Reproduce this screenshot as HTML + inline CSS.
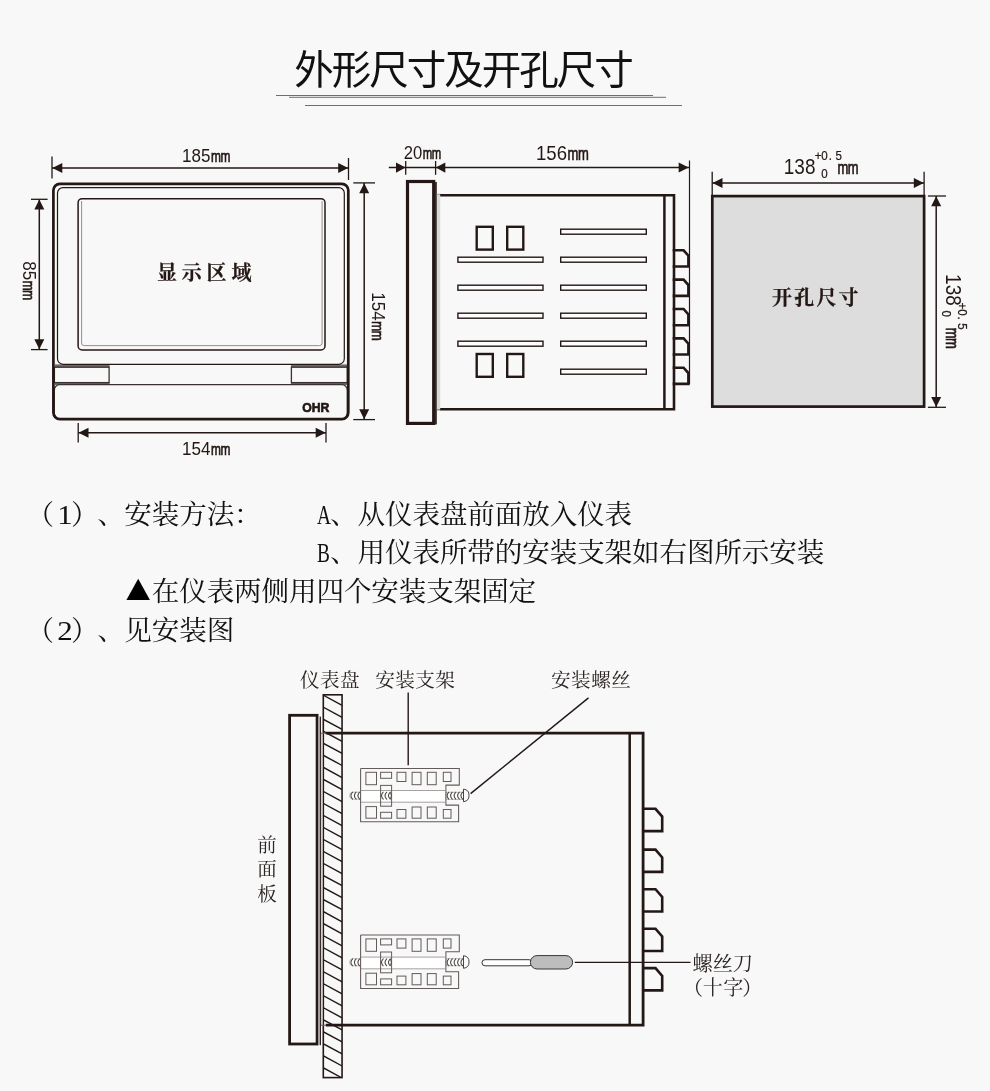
<!DOCTYPE html>
<html lang="zh-CN">
<head>
<meta charset="utf-8">
<title>外形尺寸及开孔尺寸</title>
<style>
html,body{margin:0;padding:0;background:#f8f8f8;}
body{width:990px;height:1091px;overflow:hidden;font-family:"Liberation Sans","Noto Sans CJK SC",sans-serif;}
svg{display:block;will-change:transform;}
text{white-space:pre;}
</style>
</head>
<body>
<svg width="990" height="1091" viewBox="0 0 990 1091">
<rect x="0" y="0" width="990" height="1091" fill="#f8f8f8"/>
<text x="294.2 331.7 369.2 406.7 444.2 481.7 519.2 556.7 594.2" y="84" font-family="'Liberation Sans', 'Noto Sans CJK SC', sans-serif" font-weight="400" font-size="39.5" fill="#111">外形尺寸及开孔尺寸</text>
<line x1="276" y1="95.5" x2="653" y2="95.5" stroke="#6e6e6e" stroke-width="1" />
<line x1="289" y1="97.3" x2="666" y2="97.3" stroke="#6e6e6e" stroke-width="1" />
<line x1="305" y1="105.5" x2="682" y2="105.5" stroke="#6e6e6e" stroke-width="1" />
<rect x="55" y="364.4" width="54.6" height="3" fill="#6f6967"/>
<rect x="291" y="364.4" width="56" height="3" fill="#6f6967"/>
<rect x="55" y="382.4" width="54.6" height="2.6" fill="#6f6967"/>
<rect x="291" y="382.4" width="56" height="2.6" fill="#6f6967"/>
<rect x="57.5" y="187.6" width="286.8" height="176.7" rx="5.5" fill="none" stroke="#231815" stroke-width="1.2"/>
<rect x="78.1" y="198.7" width="246.9" height="151.3" rx="4" fill="none" stroke="#231815" stroke-width="1.5"/>
<path d="M81.6,201 V343 Q81.6,345.6 84.2,345.6 H319.5 Q322.1,345.6 322.1,343 V201" fill="none" stroke="#7a7472" stroke-width="0.8"/>
<rect x="54.4" y="367.2" width="54.7" height="15.4" fill="none" stroke="#3a3331" stroke-width="1.3"/>
<rect x="291.4" y="367.2" width="55.8" height="15.4" fill="none" stroke="#3a3331" stroke-width="1.3"/>
<rect x="54.3" y="384.7" width="293.0" height="34.1" rx="5.5" fill="none" stroke="#3a3331" stroke-width="1.3"/>
<rect x="53.4" y="183.8" width="294.9" height="235.3" rx="6.5" fill="none" stroke="#231815" stroke-width="2.7"/>
<text transform="translate(302.2,412.3) scale(0.9,1)" font-family="'Liberation Sans', sans-serif" font-weight="bold" font-size="13.6" fill="#231815" stroke="#231815" stroke-width="0.7">OHR</text>
<text x="157" y="280.2" font-family="'Liberation Serif', 'Noto Serif CJK SC', serif" font-weight="700" font-size="20" letter-spacing="4.8" fill="#231815" stroke="#231815" stroke-width="0.25">显示区域</text>
<line x1="52" y1="168.1" x2="348.5" y2="168.1" stroke="#231815" stroke-width="1.5" />
<line x1="52" y1="156.5" x2="52" y2="178.5" stroke="#231815" stroke-width="1.3" />
<line x1="348.5" y1="158" x2="348.5" y2="180" stroke="#231815" stroke-width="1.3" />
<polygon points="52.3,168.1 62.3,163.1 62.3,173.1" fill="#231815" stroke="none" stroke-width="0"/>
<polygon points="348.2,168.1 338.2,163.1 338.2,173.1" fill="#231815" stroke="none" stroke-width="0"/>
<g transform="translate(182,161.8)" font-family="'Liberation Sans', sans-serif" fill="#231815">
<text transform="scale(0.93,1)" x="0" y="0" font-size="18.3">185</text>
<text transform="translate(28.9,0) scale(0.7,1)" x="0" y="0" font-size="17.02" stroke="#231815" stroke-width="0.7" letter-spacing="-0.6">mm</text>
</g>
<line x1="39.3" y1="199.3" x2="39.3" y2="349.6" stroke="#231815" stroke-width="1.5" />
<line x1="31" y1="199.3" x2="47.6" y2="199.3" stroke="#231815" stroke-width="1.3" />
<line x1="31" y1="349.6" x2="47.6" y2="349.6" stroke="#231815" stroke-width="1.3" />
<polygon points="39.3,199.6 34.3,209.6 44.3,209.6" fill="#231815" stroke="none" stroke-width="0"/>
<polygon points="39.3,349.3 34.3,339.3 44.3,339.3" fill="#231815" stroke="none" stroke-width="0"/>
<g transform="translate(22.7,261.2) rotate(90)" font-family="'Liberation Sans', sans-serif" fill="#231815">
<text transform="scale(0.93,1)" x="0" y="0" font-size="18.3">85</text>
<text transform="translate(19.43,0) scale(0.7,1)" x="0" y="0" font-size="17.02" stroke="#231815" stroke-width="0.7" letter-spacing="-0.6">mm</text>
</g>
<line x1="364.2" y1="182.9" x2="364.2" y2="419.6" stroke="#231815" stroke-width="1.5" />
<line x1="353.3" y1="182.9" x2="375" y2="182.9" stroke="#231815" stroke-width="1.3" />
<line x1="353.3" y1="419.6" x2="375" y2="419.6" stroke="#231815" stroke-width="1.3" />
<polygon points="364.2,183.2 359.2,193.2 369.2,193.2" fill="#231815" stroke="none" stroke-width="0"/>
<polygon points="364.2,419.3 359.2,409.3 369.2,409.3" fill="#231815" stroke="none" stroke-width="0"/>
<g transform="translate(371.6,292.3) rotate(90)" font-family="'Liberation Sans', sans-serif" fill="#231815">
<text transform="scale(0.93,1)" x="0" y="0" font-size="18.3">154</text>
<text transform="translate(28.9,0) scale(0.7,1)" x="0" y="0" font-size="17.02" stroke="#231815" stroke-width="0.7" letter-spacing="-0.6">mm</text>
</g>
<line x1="78.2" y1="432.8" x2="326" y2="432.8" stroke="#231815" stroke-width="1.5" />
<line x1="78.2" y1="423" x2="78.2" y2="442.4" stroke="#231815" stroke-width="1.3" />
<line x1="326" y1="423" x2="326" y2="442.4" stroke="#231815" stroke-width="1.3" />
<polygon points="78.5,432.8 88.5,427.8 88.5,437.8" fill="#231815" stroke="none" stroke-width="0"/>
<polygon points="325.7,432.8 315.7,427.8 315.7,437.8" fill="#231815" stroke="none" stroke-width="0"/>
<g transform="translate(182,455.3)" font-family="'Liberation Sans', sans-serif" fill="#231815">
<text transform="scale(0.93,1)" x="0" y="0" font-size="18.3">154</text>
<text transform="translate(28.9,0) scale(0.7,1)" x="0" y="0" font-size="17.02" stroke="#231815" stroke-width="0.7" letter-spacing="-0.6">mm</text>
</g>
<rect x="435" y="182" width="1.9" height="242.4" fill="#3e3634"/>
<rect x="407.5" y="181.5" width="26.2" height="241.9" fill="none" stroke="#231815" stroke-width="3.2"/>
<rect x="436.9" y="194" width="3.3" height="215.4" fill="#d9d9d9"/>
<line x1="436.5" y1="194.3" x2="441" y2="194.3" stroke="#8a8a8a" stroke-width="0.8" />
<line x1="436.5" y1="409.8" x2="441" y2="409.8" stroke="#5a5250" stroke-width="0.9" />
<polyline points="440.2,195.2 674,195.2 674,409.3 440.2,409.3" fill="none" stroke="#231815" stroke-width="2.6" stroke-linejoin="miter"/>
<line x1="664.4" y1="195.2" x2="664.4" y2="409.3" stroke="#231815" stroke-width="2.5" />
<rect x="476.7" y="226.8" width="16.1" height="22.8" fill="none" stroke="#231815" stroke-width="2.4"/>
<rect x="507.2" y="226.8" width="16.1" height="22.8" fill="none" stroke="#231815" stroke-width="2.4"/>
<rect x="476.7" y="354.0" width="16.1" height="22.8" fill="none" stroke="#231815" stroke-width="2.4"/>
<rect x="507.2" y="354.0" width="16.1" height="22.8" fill="none" stroke="#231815" stroke-width="2.4"/>
<rect x="457.9" y="257.2" width="85.1" height="5.0" fill="#fdfdfd" stroke="#231815" stroke-width="1.4"/>
<rect x="457.9" y="285.2" width="85.1" height="5.0" fill="#fdfdfd" stroke="#231815" stroke-width="1.4"/>
<rect x="457.9" y="313.2" width="85.1" height="5.0" fill="#fdfdfd" stroke="#231815" stroke-width="1.4"/>
<rect x="457.9" y="341.2" width="85.1" height="5.0" fill="#fdfdfd" stroke="#231815" stroke-width="1.4"/>
<rect x="560.7" y="229.2" width="85.6" height="5.0" fill="#fdfdfd" stroke="#231815" stroke-width="1.4"/>
<rect x="560.7" y="257.2" width="85.6" height="5.0" fill="#fdfdfd" stroke="#231815" stroke-width="1.4"/>
<rect x="560.7" y="285.2" width="85.6" height="5.0" fill="#fdfdfd" stroke="#231815" stroke-width="1.4"/>
<rect x="560.7" y="313.2" width="85.6" height="5.0" fill="#fdfdfd" stroke="#231815" stroke-width="1.4"/>
<rect x="560.7" y="341.2" width="85.6" height="5.0" fill="#fdfdfd" stroke="#231815" stroke-width="1.4"/>
<rect x="560.7" y="369.2" width="85.6" height="5.0" fill="#fdfdfd" stroke="#231815" stroke-width="1.4"/>
<line x1="689.5" y1="160.5" x2="689.5" y2="384" stroke="#231815" stroke-width="1.2" />
<polyline points="672.7,250.3 683.6,250.3 688.4,255.7 688.4,266.5 672.7,266.5" fill="none" stroke="#231815" stroke-width="2.6" stroke-linejoin="miter"/>
<polyline points="672.7,279.65 683.6,279.65 688.4,285.05 688.4,295.85 672.7,295.85" fill="none" stroke="#231815" stroke-width="2.6" stroke-linejoin="miter"/>
<polyline points="672.7,309.0 683.6,309.0 688.4,314.4 688.4,325.2 672.7,325.2" fill="none" stroke="#231815" stroke-width="2.6" stroke-linejoin="miter"/>
<polyline points="672.7,338.35 683.6,338.35 688.4,343.75 688.4,354.55 672.7,354.55" fill="none" stroke="#231815" stroke-width="2.6" stroke-linejoin="miter"/>
<polyline points="672.7,367.7 683.6,367.7 688.4,373.1 688.4,383.9 672.7,383.9" fill="none" stroke="#231815" stroke-width="2.6" stroke-linejoin="miter"/>
<line x1="388.8" y1="167.6" x2="689" y2="167.6" stroke="#231815" stroke-width="1.5" />
<line x1="405.7" y1="161" x2="405.7" y2="174.8" stroke="#231815" stroke-width="1.3" />
<line x1="435.6" y1="161" x2="435.6" y2="174.8" stroke="#231815" stroke-width="1.3" />
<polygon points="405.5,167.6 396.0,162.4 396.0,172.79999999999998" fill="#231815" stroke="none" stroke-width="0"/>
<polygon points="435.8,167.6 445.3,162.4 445.3,172.79999999999998" fill="#231815" stroke="none" stroke-width="0"/>
<polygon points="688.7,167.6 678.7,162.6 678.7,172.6" fill="#231815" stroke="none" stroke-width="0"/>
<g transform="translate(403.8,158.7)" font-family="'Liberation Sans', sans-serif" fill="#231815">
<text transform="scale(0.93,1)" x="0" y="0" font-size="17.9">20</text>
<text transform="translate(19.02,0) scale(0.68,1)" x="0" y="0" font-size="16.65" stroke="#231815" stroke-width="0.7" letter-spacing="-0.6">mm</text>
</g>
<g transform="translate(536,159.5)" font-family="'Liberation Sans', sans-serif" fill="#231815">
<text transform="scale(0.93,1)" x="0" y="0" font-size="20">156</text>
<text transform="translate(31.54,0) scale(0.7,1)" x="0" y="0" font-size="18.6" stroke="#231815" stroke-width="0.7" letter-spacing="-0.6">mm</text>
</g>
<rect x="712.3" y="196.1" width="211.8" height="210.5" fill="#dddddd" stroke="#231815" stroke-width="2.7"/>
<line x1="712.2" y1="183" x2="924.1" y2="183" stroke="#231815" stroke-width="1.5" />
<line x1="712.2" y1="171.8" x2="712.2" y2="195" stroke="#231815" stroke-width="1.3" />
<line x1="924.1" y1="171.8" x2="924.1" y2="195" stroke="#231815" stroke-width="1.3" />
<polygon points="712.5,183 722.5,178 722.5,188" fill="#231815" stroke="none" stroke-width="0"/>
<polygon points="923.8,183 913.8,178 913.8,188" fill="#231815" stroke="none" stroke-width="0"/>
<line x1="936.2" y1="196" x2="936.2" y2="407.3" stroke="#231815" stroke-width="1.5" />
<line x1="927.9" y1="196" x2="946" y2="196" stroke="#231815" stroke-width="1.3" />
<line x1="927.9" y1="407.3" x2="946" y2="407.3" stroke="#231815" stroke-width="1.3" />
<polygon points="936.2,196.3 931.2,206.3 941.2,206.3" fill="#231815" stroke="none" stroke-width="0"/>
<polygon points="936.2,407 931.2,397 941.2,397" fill="#231815" stroke="none" stroke-width="0"/>
<text x="772" y="304.5" font-family="'Liberation Serif', 'Noto Serif CJK SC', serif" font-weight="700" font-size="20" letter-spacing="2.2" fill="#231815" stroke="#231815" stroke-width="0.25">开孔尺寸</text>
<g transform="translate(785.6,173.6)" font-family="'Liberation Sans', sans-serif" fill="#231815">
<text transform="translate(-1.8,0) scale(0.87,1)" x="0" y="0" font-size="21.8">138</text>
<text transform="translate(29.1,-13.3) scale(0.85,1)" x="0 7.76 16.47 24.35" y="0" font-size="13.6" stroke="#231815" stroke-width="0.25">+0.5</text>
<text transform="translate(35.7,3.9) scale(0.85,1)" x="0" y="0" font-size="13.6" stroke="#231815" stroke-width="0.25">0</text>
<text transform="translate(51.8,0) scale(0.72,1)" x="0" y="0" font-size="18" stroke="#231815" stroke-width="0.7" letter-spacing="-0.6">mm</text>
</g>
<g transform="translate(946.2,275.9) rotate(90)" font-family="'Liberation Sans', sans-serif" fill="#231815">
<text transform="translate(-1.8,0) scale(0.87,1)" x="0" y="0" font-size="21.8">138</text>
<text transform="translate(26.700000000000003,-11.9) scale(0.85,1)" x="0 7.76 16.47 24.35" y="0" font-size="13.6" stroke="#231815" stroke-width="0.25">+0.5</text>
<text transform="translate(34.7,3.9) scale(0.85,1)" x="0" y="0" font-size="13.6" stroke="#231815" stroke-width="0.25">0</text>
<text transform="translate(51.8,0) scale(0.72,1)" x="0" y="0" font-size="18" stroke="#231815" stroke-width="0.7" letter-spacing="-0.6">mm</text>
</g>
<text x="26.5" y="523.5" font-family="'Liberation Serif', 'Noto Serif CJK SC', serif" font-size="27.6" font-weight="400" fill="#111111">（</text>
<text transform="translate(57.2,523.5) scale(1.12,1)" font-family="'Liberation Serif', 'Noto Serif CJK SC', serif" font-size="27.6" fill="#111111">1</text>
<text x="71 97.3" y="523.5" font-family="'Liberation Serif', 'Noto Serif CJK SC', serif" font-size="27.6" font-weight="400" fill="#111111">）、</text>
<text x="124.3 151.75 179.2 206.65 234.1" y="523.5" font-family="'Liberation Serif', 'Noto Serif CJK SC', serif" font-size="27.6" font-weight="400" fill="#111111">安装方法：</text>
<text transform="translate(317,523.5) scale(0.7,1)" font-family="'Liberation Serif', 'Noto Serif CJK SC', serif" font-size="27.6" fill="#111111">A</text>
<text x="330.1 357.55 385.0 412.45 439.9 467.35 494.8 522.25 549.7 577.15 604.6" y="523.5" font-family="'Liberation Serif', 'Noto Serif CJK SC', serif" font-size="27.6" font-weight="400" fill="#111111">、从仪表盘前面放入仪表</text>
<text transform="translate(317,561.9) scale(0.7,1)" font-family="'Liberation Serif', 'Noto Serif CJK SC', serif" font-size="27.6" fill="#111111">B</text>
<text x="330.1 357.55 385.0 412.45 439.9 467.35 494.8 522.25 549.7 577.15 604.6 632.05 659.5 686.95 714.4 741.85 769.3 796.75" y="561.9" font-family="'Liberation Serif', 'Noto Serif CJK SC', serif" font-size="27.6" font-weight="400" fill="#111111">、用仪表所带的安装支架如右图所示安装</text>
<text transform="translate(118.2,600.3) scale(1.48,1.34)" font-family="'Liberation Serif', 'Noto Serif CJK SC', serif" font-size="27.2" fill="#000">▲</text>
<text x="151.75 179.2 206.65 234.1 261.55 289.0 316.45 343.9 371.35 398.8 426.25 453.7 481.15 508.6" y="600.5" font-family="'Liberation Serif', 'Noto Serif CJK SC', serif" font-size="27.6" font-weight="400" fill="#111111">在仪表两侧用四个安装支架固定</text>
<text x="26.5" y="639.6" font-family="'Liberation Serif', 'Noto Serif CJK SC', serif" font-size="27.6" font-weight="400" fill="#111111">（</text>
<text transform="translate(57.2,639.6) scale(1.12,1)" font-family="'Liberation Serif', 'Noto Serif CJK SC', serif" font-size="27.6" fill="#111111">2</text>
<text x="71 97.3" y="639.6" font-family="'Liberation Serif', 'Noto Serif CJK SC', serif" font-size="27.6" font-weight="400" fill="#111111">）、</text>
<text x="124.3 151.75 179.2 206.65" y="639.6" font-family="'Liberation Serif', 'Noto Serif CJK SC', serif" font-size="27.6" font-weight="400" fill="#111111">见安装图</text>
<text x="300.0 320.0 340.0" y="687.2" font-family="'Liberation Serif', 'Noto Serif CJK SC', serif" font-size="19.6" font-weight="400" fill="#2b2422">仪表盘</text>
<text x="375.3 395.3 415.3 435.3" y="687.2" font-family="'Liberation Serif', 'Noto Serif CJK SC', serif" font-size="19.6" font-weight="400" fill="#2b2422">安装支架</text>
<text x="551.0 571.1 591.2 611.3" y="687.2" font-family="'Liberation Serif', 'Noto Serif CJK SC', serif" font-size="19.6" font-weight="400" fill="#2b2422">安装螺丝</text>
<text x="257.3" y="851.8" font-family="'Liberation Serif', 'Noto Serif CJK SC', serif" font-size="19.5" font-weight="400" fill="#2b2422">前</text>
<text x="257.3" y="876.2" font-family="'Liberation Serif', 'Noto Serif CJK SC', serif" font-size="19.5" font-weight="400" fill="#2b2422">面</text>
<text x="257.3" y="900.6" font-family="'Liberation Serif', 'Noto Serif CJK SC', serif" font-size="19.5" font-weight="400" fill="#2b2422">板</text>
<text x="692.6 712.7 732.8" y="971" font-family="'Liberation Serif', 'Noto Serif CJK SC', serif" font-size="20.2" font-weight="400" fill="#2b2422">螺丝刀</text>
<text x="683 702.8 723.2 742.2" y="995" font-family="'Liberation Serif', 'Noto Serif CJK SC', serif" font-size="20" font-weight="400" fill="#2b2422">（十字）</text>
<clipPath id="hc"><rect x="323.1" y="694.8" width="19" height="382.8"/></clipPath>
<g clip-path="url(#hc)">
<line x1="323.1" y1="683.08" x2="342.1" y2="693.38" stroke="#231815" stroke-width="1.4" />
<line x1="323.1" y1="695.1" x2="342.1" y2="705.4" stroke="#231815" stroke-width="1.4" />
<line x1="323.1" y1="707.12" x2="342.1" y2="717.42" stroke="#231815" stroke-width="1.4" />
<line x1="323.1" y1="719.14" x2="342.1" y2="729.44" stroke="#231815" stroke-width="1.4" />
<line x1="323.1" y1="731.16" x2="342.1" y2="741.46" stroke="#231815" stroke-width="1.4" />
<line x1="323.1" y1="743.18" x2="342.1" y2="753.48" stroke="#231815" stroke-width="1.4" />
<line x1="323.1" y1="755.2" x2="342.1" y2="765.5" stroke="#231815" stroke-width="1.4" />
<line x1="323.1" y1="767.22" x2="342.1" y2="777.52" stroke="#231815" stroke-width="1.4" />
<line x1="323.1" y1="779.24" x2="342.1" y2="789.54" stroke="#231815" stroke-width="1.4" />
<line x1="323.1" y1="791.26" x2="342.1" y2="801.56" stroke="#231815" stroke-width="1.4" />
<line x1="323.1" y1="803.28" x2="342.1" y2="813.58" stroke="#231815" stroke-width="1.4" />
<line x1="323.1" y1="815.3" x2="342.1" y2="825.6" stroke="#231815" stroke-width="1.4" />
<line x1="323.1" y1="827.32" x2="342.1" y2="837.62" stroke="#231815" stroke-width="1.4" />
<line x1="323.1" y1="839.34" x2="342.1" y2="849.64" stroke="#231815" stroke-width="1.4" />
<line x1="323.1" y1="851.36" x2="342.1" y2="861.66" stroke="#231815" stroke-width="1.4" />
<line x1="323.1" y1="863.38" x2="342.1" y2="873.68" stroke="#231815" stroke-width="1.4" />
<line x1="323.1" y1="875.4" x2="342.1" y2="885.7" stroke="#231815" stroke-width="1.4" />
<line x1="323.1" y1="887.42" x2="342.1" y2="897.72" stroke="#231815" stroke-width="1.4" />
<line x1="323.1" y1="899.44" x2="342.1" y2="909.74" stroke="#231815" stroke-width="1.4" />
<line x1="323.1" y1="911.46" x2="342.1" y2="921.76" stroke="#231815" stroke-width="1.4" />
<line x1="323.1" y1="923.48" x2="342.1" y2="933.78" stroke="#231815" stroke-width="1.4" />
<line x1="323.1" y1="935.5" x2="342.1" y2="945.8" stroke="#231815" stroke-width="1.4" />
<line x1="323.1" y1="947.52" x2="342.1" y2="957.82" stroke="#231815" stroke-width="1.4" />
<line x1="323.1" y1="959.54" x2="342.1" y2="969.84" stroke="#231815" stroke-width="1.4" />
<line x1="323.1" y1="971.56" x2="342.1" y2="981.86" stroke="#231815" stroke-width="1.4" />
<line x1="323.1" y1="983.58" x2="342.1" y2="993.88" stroke="#231815" stroke-width="1.4" />
<line x1="323.1" y1="995.6" x2="342.1" y2="1005.9" stroke="#231815" stroke-width="1.4" />
<line x1="323.1" y1="1007.62" x2="342.1" y2="1017.92" stroke="#231815" stroke-width="1.4" />
<line x1="323.1" y1="1019.64" x2="342.1" y2="1029.94" stroke="#231815" stroke-width="1.4" />
<line x1="323.1" y1="1031.66" x2="342.1" y2="1041.96" stroke="#231815" stroke-width="1.4" />
<line x1="323.1" y1="1043.68" x2="342.1" y2="1053.98" stroke="#231815" stroke-width="1.4" />
<line x1="323.1" y1="1055.7" x2="342.1" y2="1066.0" stroke="#231815" stroke-width="1.4" />
<line x1="323.1" y1="1067.72" x2="342.1" y2="1078.02" stroke="#231815" stroke-width="1.4" />
<line x1="323.1" y1="1079.74" x2="342.1" y2="1090.04" stroke="#231815" stroke-width="1.4" />
</g>
<rect x="323.3" y="694.8" width="18.75" height="382.8" fill="none" stroke="#231815" stroke-width="1.6"/>
<rect x="289.6" y="715.3" width="27.5" height="328.7" fill="none" stroke="#231815" stroke-width="2.8"/>
<rect x="318.3" y="716.6" width="1.8" height="328.4" fill="#a5a2a1"/>
<rect x="320" y="716.6" width="0.95" height="328.6" fill="#231815"/>
<rect x="320.95" y="733" width="1.6" height="292.5" fill="#cfcfcf"/>
<line x1="321" y1="733.2" x2="327" y2="733.2" stroke="#6a6260" stroke-width="1.0" />
<line x1="321" y1="1025.2" x2="327" y2="1025.2" stroke="#6a6260" stroke-width="1.0" />
<polyline points="325.8,733.2 643.1,733.2 643.1,1025.2 325.8,1025.2" fill="none" stroke="#231815" stroke-width="2.8" stroke-linejoin="miter"/>
<line x1="629.7" y1="733.2" x2="629.7" y2="1025.2" stroke="#231815" stroke-width="2.5" />
<polyline points="642,808.8 655.5,808.8 662.2,816.6 662.2,831.1 642,831.1" fill="none" stroke="#231815" stroke-width="2.6" stroke-linejoin="miter"/>
<polyline points="642,849.6 655.5,849.6 662.2,857.4 662.2,871.9 642,871.9" fill="none" stroke="#231815" stroke-width="2.6" stroke-linejoin="miter"/>
<polyline points="642,889.2 655.5,889.2 662.2,897.0 662.2,911.5 642,911.5" fill="none" stroke="#231815" stroke-width="2.6" stroke-linejoin="miter"/>
<polyline points="642,928.7 655.5,928.7 662.2,936.5 662.2,951.0 642,951.0" fill="none" stroke="#231815" stroke-width="2.6" stroke-linejoin="miter"/>
<polyline points="642,968.1 655.5,968.1 662.2,975.9 662.2,990.4 642,990.4" fill="none" stroke="#231815" stroke-width="2.6" stroke-linejoin="miter"/>
<line x1="408.2" y1="692.4" x2="408.2" y2="765.2" stroke="#231815" stroke-width="1.4" />
<line x1="588.5" y1="697.9" x2="470.6" y2="793.6" stroke="#231815" stroke-width="1.4" />
<line x1="574.8" y1="962.4" x2="690.5" y2="962.4" stroke="#231815" stroke-width="1.3" />
<rect x="361" y="790.5" width="84.8" height="11.7" fill="#ffffff"/>
<path d="M360.5,792.2 H352.2 Q349.6,792.4 349.6,795.7 Q349.6,799 352.2,799.2 H360.5 Z" fill="#fff" stroke="#9a9593" stroke-width="0.6"/>
<path d="M352.6,792.2 Q349.2,795.7 352.6,799.2 M356.1,792.2 Q352.7,795.7 356.1,799.2 M359.6,792.2 Q356.2,795.7 359.6,799.2" fill="none" stroke="#4a4341" stroke-width="1.05" stroke-linecap="round"/>
<rect x="446" y="792.2" width="17.4" height="7" fill="#fff" stroke="#9a9593" stroke-width="0.6"/>
<path d="M448.8,792.2 Q445.4,795.7 448.8,799.2 M452.3,792.2 Q448.9,795.7 452.3,799.2 M455.8,792.2 Q452.4,795.7 455.8,799.2 M459.3,792.2 Q455.9,795.7 459.3,799.2 M462.6,792.2 Q459.2,795.7 462.6,799.2" fill="none" stroke="#4a4341" stroke-width="1.05" stroke-linecap="round"/>
<path d="M463.5,789.1 Q469.2,789.8 469,795.4 Q469.2,801 463.5,801.7 Z" fill="#fbfbfb" stroke="#4a4341" stroke-width="1.0"/>
<polyline points="360.6,768.4 459.3,768.4 459.3,785.1 445.9,785.1 445.9,805.1 458.6,805.1 458.6,821.8 360.6,821.8 360.6,768.4" fill="none" stroke="#625b59" stroke-width="1.05" stroke-linejoin="miter"/>
<line x1="361" y1="790.5" x2="445.8" y2="790.5" stroke="#8f8a88" stroke-width="0.8" />
<line x1="361" y1="802.2" x2="445.8" y2="802.2" stroke="#8f8a88" stroke-width="0.8" />
<rect x="365.9" y="772.3" width="10.6" height="12.4" fill="none" stroke="#625b59" stroke-width="1.0"/>
<rect x="380.6" y="772.3" width="11.0" height="6.0" fill="none" stroke="#625b59" stroke-width="1.0"/>
<rect x="397" y="772.3" width="8.9" height="9.2" fill="none" stroke="#625b59" stroke-width="1.0"/>
<rect x="412.1" y="772.3" width="8.9" height="12.4" fill="none" stroke="#625b59" stroke-width="1.0"/>
<rect x="427.3" y="772.3" width="8.9" height="12.4" fill="none" stroke="#625b59" stroke-width="1.0"/>
<rect x="443.3" y="772.3" width="7.7" height="9.2" fill="none" stroke="#625b59" stroke-width="1.0"/>
<rect x="365.9" y="806.6" width="10.6" height="11.6" fill="none" stroke="#625b59" stroke-width="1.0"/>
<rect x="380.6" y="812.3" width="11.0" height="5.9" fill="none" stroke="#625b59" stroke-width="1.0"/>
<rect x="397" y="809.5" width="8.9" height="8.7" fill="none" stroke="#625b59" stroke-width="1.0"/>
<rect x="412.1" y="807" width="8.9" height="11.2" fill="none" stroke="#625b59" stroke-width="1.0"/>
<rect x="427.3" y="807" width="8.9" height="11.2" fill="none" stroke="#625b59" stroke-width="1.0"/>
<rect x="443.3" y="809.5" width="7.7" height="8.7" fill="none" stroke="#625b59" stroke-width="1.0"/>
<rect x="380.6" y="785.4" width="11.0" height="20.8" fill="none" stroke="#625b59" stroke-width="1.0"/>
<path d="M383.2,792.2 Q379.8,795.7 383.2,799.2 M386.7,792.2 Q383.3,795.7 386.7,799.2 M390.2,792.2 Q386.8,795.7 390.2,799.2" fill="none" stroke="#4a4341" stroke-width="1.05" stroke-linecap="round"/>
<path d="M390.4,792.4 Q392.4,795.7 390.4,799" fill="none" stroke="#4a4341" stroke-width="0.9"/>
<rect x="361" y="957.1" width="84.8" height="11.7" fill="#ffffff"/>
<path d="M360.5,958.8 H352.2 Q349.6,959.0 349.6,962.3 Q349.6,965.6 352.2,965.8 H360.5 Z" fill="#fff" stroke="#9a9593" stroke-width="0.6"/>
<path d="M352.6,958.8 Q349.2,962.3 352.6,965.8 M356.1,958.8 Q352.7,962.3 356.1,965.8 M359.6,958.8 Q356.2,962.3 359.6,965.8" fill="none" stroke="#4a4341" stroke-width="1.05" stroke-linecap="round"/>
<rect x="446" y="958.8" width="17.4" height="7" fill="#fff" stroke="#9a9593" stroke-width="0.6"/>
<path d="M448.8,958.8 Q445.4,962.3 448.8,965.8 M452.3,958.8 Q448.9,962.3 452.3,965.8 M455.8,958.8 Q452.4,962.3 455.8,965.8 M459.3,958.8 Q455.9,962.3 459.3,965.8 M462.6,958.8 Q459.2,962.3 462.6,965.8" fill="none" stroke="#4a4341" stroke-width="1.05" stroke-linecap="round"/>
<path d="M463.5,955.7 Q469.2,956.4 469,962.0 Q469.2,967.6 463.5,968.3 Z" fill="#fbfbfb" stroke="#4a4341" stroke-width="1.0"/>
<polyline points="360.6,935.0 459.3,935.0 459.3,951.7 445.9,951.7 445.9,971.7 458.6,971.7 458.6,988.4 360.6,988.4 360.6,935.0" fill="none" stroke="#625b59" stroke-width="1.05" stroke-linejoin="miter"/>
<line x1="361" y1="957.1" x2="445.8" y2="957.1" stroke="#8f8a88" stroke-width="0.8" />
<line x1="361" y1="968.8" x2="445.8" y2="968.8" stroke="#8f8a88" stroke-width="0.8" />
<rect x="365.9" y="938.9" width="10.6" height="12.4" fill="none" stroke="#625b59" stroke-width="1.0"/>
<rect x="380.6" y="938.9" width="11.0" height="6.0" fill="none" stroke="#625b59" stroke-width="1.0"/>
<rect x="397" y="938.9" width="8.9" height="9.2" fill="none" stroke="#625b59" stroke-width="1.0"/>
<rect x="412.1" y="938.9" width="8.9" height="12.4" fill="none" stroke="#625b59" stroke-width="1.0"/>
<rect x="427.3" y="938.9" width="8.9" height="12.4" fill="none" stroke="#625b59" stroke-width="1.0"/>
<rect x="443.3" y="938.9" width="7.7" height="9.2" fill="none" stroke="#625b59" stroke-width="1.0"/>
<rect x="365.9" y="973.2" width="10.6" height="11.6" fill="none" stroke="#625b59" stroke-width="1.0"/>
<rect x="380.6" y="978.9" width="11.0" height="5.9" fill="none" stroke="#625b59" stroke-width="1.0"/>
<rect x="397" y="976.1" width="8.9" height="8.7" fill="none" stroke="#625b59" stroke-width="1.0"/>
<rect x="412.1" y="973.6" width="8.9" height="11.2" fill="none" stroke="#625b59" stroke-width="1.0"/>
<rect x="427.3" y="973.6" width="8.9" height="11.2" fill="none" stroke="#625b59" stroke-width="1.0"/>
<rect x="443.3" y="976.1" width="7.7" height="8.7" fill="none" stroke="#625b59" stroke-width="1.0"/>
<rect x="380.6" y="952.0" width="11.0" height="20.8" fill="none" stroke="#625b59" stroke-width="1.0"/>
<path d="M383.2,958.8 Q379.8,962.3 383.2,965.8 M386.7,958.8 Q383.3,962.3 386.7,965.8 M390.2,958.8 Q386.8,962.3 390.2,965.8" fill="none" stroke="#4a4341" stroke-width="1.05" stroke-linecap="round"/>
<path d="M390.4,959.0 Q392.4,962.3 390.4,965.6" fill="none" stroke="#4a4341" stroke-width="0.9"/>
<rect x="482" y="959.7" width="50" height="6.1" rx="3" fill="#fff" stroke="#3a3432" stroke-width="1"/>
<rect x="530.4" y="955.6" width="42.2" height="13.4" rx="6.7" fill="#bdbdbd" stroke="#3a3432" stroke-width="1"/>
</svg>
</body>
</html>
